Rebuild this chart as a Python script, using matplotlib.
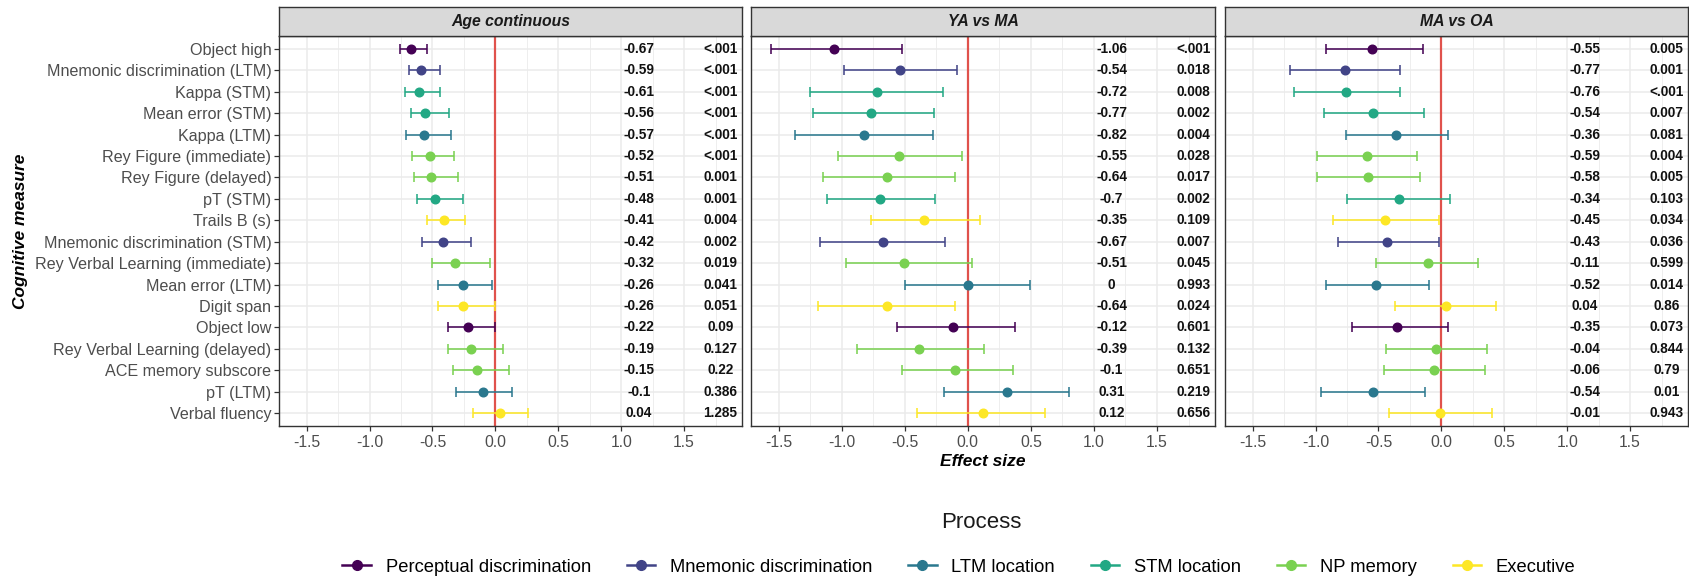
import matplotlib
matplotlib.use("Agg")
import matplotlib.pyplot as plt
from matplotlib.lines import Line2D
import numpy as np

plt.rcParams['font.family'] = ['Liberation Sans', 'DejaVu Sans']

measures = ["Object high", "Mnemonic discrimination (LTM)", "Kappa (STM)", "Mean error (STM)",
            "Kappa (LTM)", "Rey Figure (immediate)", "Rey Figure (delayed)", "pT (STM)",
            "Trails B (s)", "Mnemonic discrimination (STM)", "Rey Verbal Learning (immediate)",
            "Mean error (LTM)", "Digit span", "Object low", "Rey Verbal Learning (delayed)",
            "ACE memory subscore", "pT (LTM)", "Verbal fluency"]
process = ["Perceptual discrimination", "Mnemonic discrimination", "STM location", "STM location",
           "LTM location", "NP memory", "NP memory", "STM location",
           "Executive", "Mnemonic discrimination", "NP memory",
           "LTM location", "Executive", "Perceptual discrimination", "NP memory",
           "NP memory", "LTM location", "Executive"]

process_names = ["Perceptual discrimination", "Mnemonic discrimination", "LTM location",
                 "STM location", "NP memory", "Executive"]
process_colors = ["#440154", "#414487", "#2A788E", "#22A884", "#7AD151", "#FDE725"]

age_est = [-0.67, -0.59, -0.61, -0.56, -0.57, -0.52, -0.51, -0.48, -0.41, -0.42, -0.32, -0.26,
           -0.26, -0.22, -0.19, -0.15, -0.10, 0.04]
age_lo = [-0.76, -0.69, -0.72, -0.67, -0.71, -0.66, -0.65, -0.62, -0.54, -0.58, -0.50, -0.46,
          -0.46, -0.38, -0.38, -0.34, -0.31, -0.18]
age_hi = [-0.54, -0.44, -0.44, -0.37, -0.35, -0.33, -0.30, -0.26, -0.24, -0.19, -0.04, -0.03,
          0.00, 0.00, 0.06, 0.11, 0.13, 0.26]
age_p = ["<.001", "<.001", "<.001", "<.001", "<.001", "<.001", "0.001", "0.001", "0.004", "0.002",
         "0.019", "0.041", "0.051", "0.09", "0.127", "0.22", "0.386", "1.285"]

ya_est = [-1.06, -0.54, -0.72, -0.77, -0.82, -0.55, -0.64, -0.70, -0.35, -0.67, -0.51, 0.00,
          -0.64, -0.12, -0.39, -0.10, 0.31, 0.12]
ya_lo = [-1.56, -0.98, -1.25, -1.23, -1.37, -1.03, -1.15, -1.12, -0.77, -1.17, -0.97, -0.50,
         -1.19, -0.56, -0.88, -0.52, -0.19, -0.40]
ya_hi = [-0.52, -0.09, -0.20, -0.27, -0.28, -0.05, -0.10, -0.26, 0.10, -0.18, 0.03, 0.49,
         -0.10, 0.37, 0.13, 0.36, 0.80, 0.61]
ya_p = ["<.001", "0.018", "0.008", "0.002", "0.004", "0.028", "0.017", "0.002", "0.109", "0.007",
        "0.045", "0.993", "0.024", "0.601", "0.132", "0.651", "0.219", "0.656"]

oa_est = [-0.55, -0.77, -0.76, -0.54, -0.36, -0.59, -0.58, -0.34, -0.45, -0.43, -0.11, -0.52,
          0.04, -0.35, -0.04, -0.06, -0.54, -0.01]
oa_lo = [-0.92, -1.20, -1.17, -0.93, -0.76, -0.99, -0.99, -0.75, -0.86, -0.82, -0.52, -0.92,
         -0.37, -0.71, -0.44, -0.46, -0.96, -0.42]
oa_hi = [-0.15, -0.33, -0.33, -0.14, 0.05, -0.19, -0.17, 0.07, -0.02, -0.02, 0.29, -0.10,
         0.43, 0.05, 0.36, 0.35, -0.13, 0.40]
oa_p = ["0.005", "0.001", "<.001", "0.007", "0.081", "0.004", "0.005", "0.103", "0.034", "0.036",
        "0.599", "0.014", "0.86", "0.073", "0.844", "0.79", "0.01", "0.943"]

panels = [
    ("Age continuous", age_est, age_lo, age_hi, age_p),
    ("YA vs MA", ya_est, ya_lo, ya_hi, ya_p),
    ("MA vs OA", oa_est, oa_lo, oa_hi, oa_p),
]

W, H = 1690, 582
fig = plt.figure(figsize=(W / 100, H / 100), dpi=100)

def box(x0, y0, x1, y1):
    # pixel box (top-left origin) -> figure fraction
    return [x0 / W, 1 - y1 / H, (x1 - x0) / W, (y1 - y0) / H]

panel_x = [(279, 742), (751, 1215), (1225, 1688)]
strip_top, panel_top, panel_bottom = 7, 36, 426
edge = "#333333"
color_of = dict(zip(process_names, process_colors))
rows = np.arange(1, len(measures) + 1)

for i, (title, est, lo, hi, pv) in enumerate(panels):
    x0, x1 = panel_x[i]
    ax = fig.add_axes(box(x0, panel_top, x1, panel_bottom))
    ax.set_xlim(-1.72, 1.96)
    ax.set_ylim(len(measures) + 0.6, 0.4)
    ax.set_xticks(np.arange(-1.5, 1.51, 0.5))
    ax.set_xticks(np.arange(-1.25, 1.76, 0.5), minor=True)
    ax.set_xticklabels([f"{t:.1f}" for t in np.arange(-1.5, 1.51, 0.5)])
    ax.set_yticks(rows)
    ax.grid(True, which="major", color="#EBEBEB", lw=1.1, zorder=0)
    ax.grid(True, which="minor", axis="x", color="#EBEBEB", lw=0.6, zorder=0)
    ax.set_axisbelow(True)
    ax.tick_params(axis="x", which="major", length=3.5, width=0.9, color=edge,
                   labelsize=11.3, labelcolor="#4D4D4D", pad=3)
    ax.tick_params(axis="x", which="minor", length=0)
    if i == 0:
        ax.set_yticklabels(measures)
        ax.tick_params(axis="y", length=3.5, width=0.9, color=edge,
                       labelsize=11.6, labelcolor="#4D4D4D", pad=2)
        ax.set_ylabel("Cognitive measure", fontsize=12.5, fontweight="bold",
                      fontstyle="italic", labelpad=5)
    else:
        ax.tick_params(axis="y", length=0, labelleft=False)
    if i == 1:
        ax.set_xlabel("Effect size", fontsize=12.5, fontweight="bold",
                      fontstyle="italic", labelpad=3)
    for s in ax.spines.values():
        s.set_color(edge)
        s.set_linewidth(1.0)

    ax.axvline(0, color="#E0524C", lw=1.6, zorder=2)
    for r, e, l, h, p, proc in zip(rows, est, lo, hi, pv, process):
        c = color_of[proc]
        ax.errorbar(e, r, xerr=[[e - l], [h - e]], fmt="none", ecolor=c, elinewidth=1.4,
                    capsize=3.6, capthick=1.4, alpha=0.8, zorder=3)
        ax.plot(e, r, "o", color=c, ms=6.2, mec=c, zorder=4)
        ax.text(1.14, r, format(e, "g"), ha="center", va="center", fontsize=9.8,
                fontweight="bold", color="#111111")
        ax.text(1.79, r, p, ha="center", va="center", fontsize=9.8,
                fontweight="bold", color="#111111")

    sx = fig.add_axes(box(x0, strip_top, x1, panel_top))
    sx.set_facecolor("#D9D9D9")
    sx.set_xticks([])
    sx.set_yticks([])
    for s in sx.spines.values():
        s.set_color(edge)
        s.set_linewidth(1.0)
    sx.text(0.5, 0.5, title, transform=sx.transAxes, ha="center", va="center",
            fontsize=11.3, fontweight="bold", fontstyle="italic", color="#1A1A1A")

handles = [Line2D([0], [0], color=c, marker="o", ms=7, lw=1.8) for c in process_colors]
fig.legend(handles, process_names, loc="center", bbox_to_anchor=(959 / W, 1 - 567 / H),
           ncol=6, frameon=False, fontsize=13.2, handlelength=1.57, handletextpad=0.79,
           columnspacing=1.95)
fig.text(981 / W, 1 - 523 / H, "Process", ha="center", va="center", fontsize=16, color="#1A1A1A")

fig.savefig("out.png", dpi=100)
